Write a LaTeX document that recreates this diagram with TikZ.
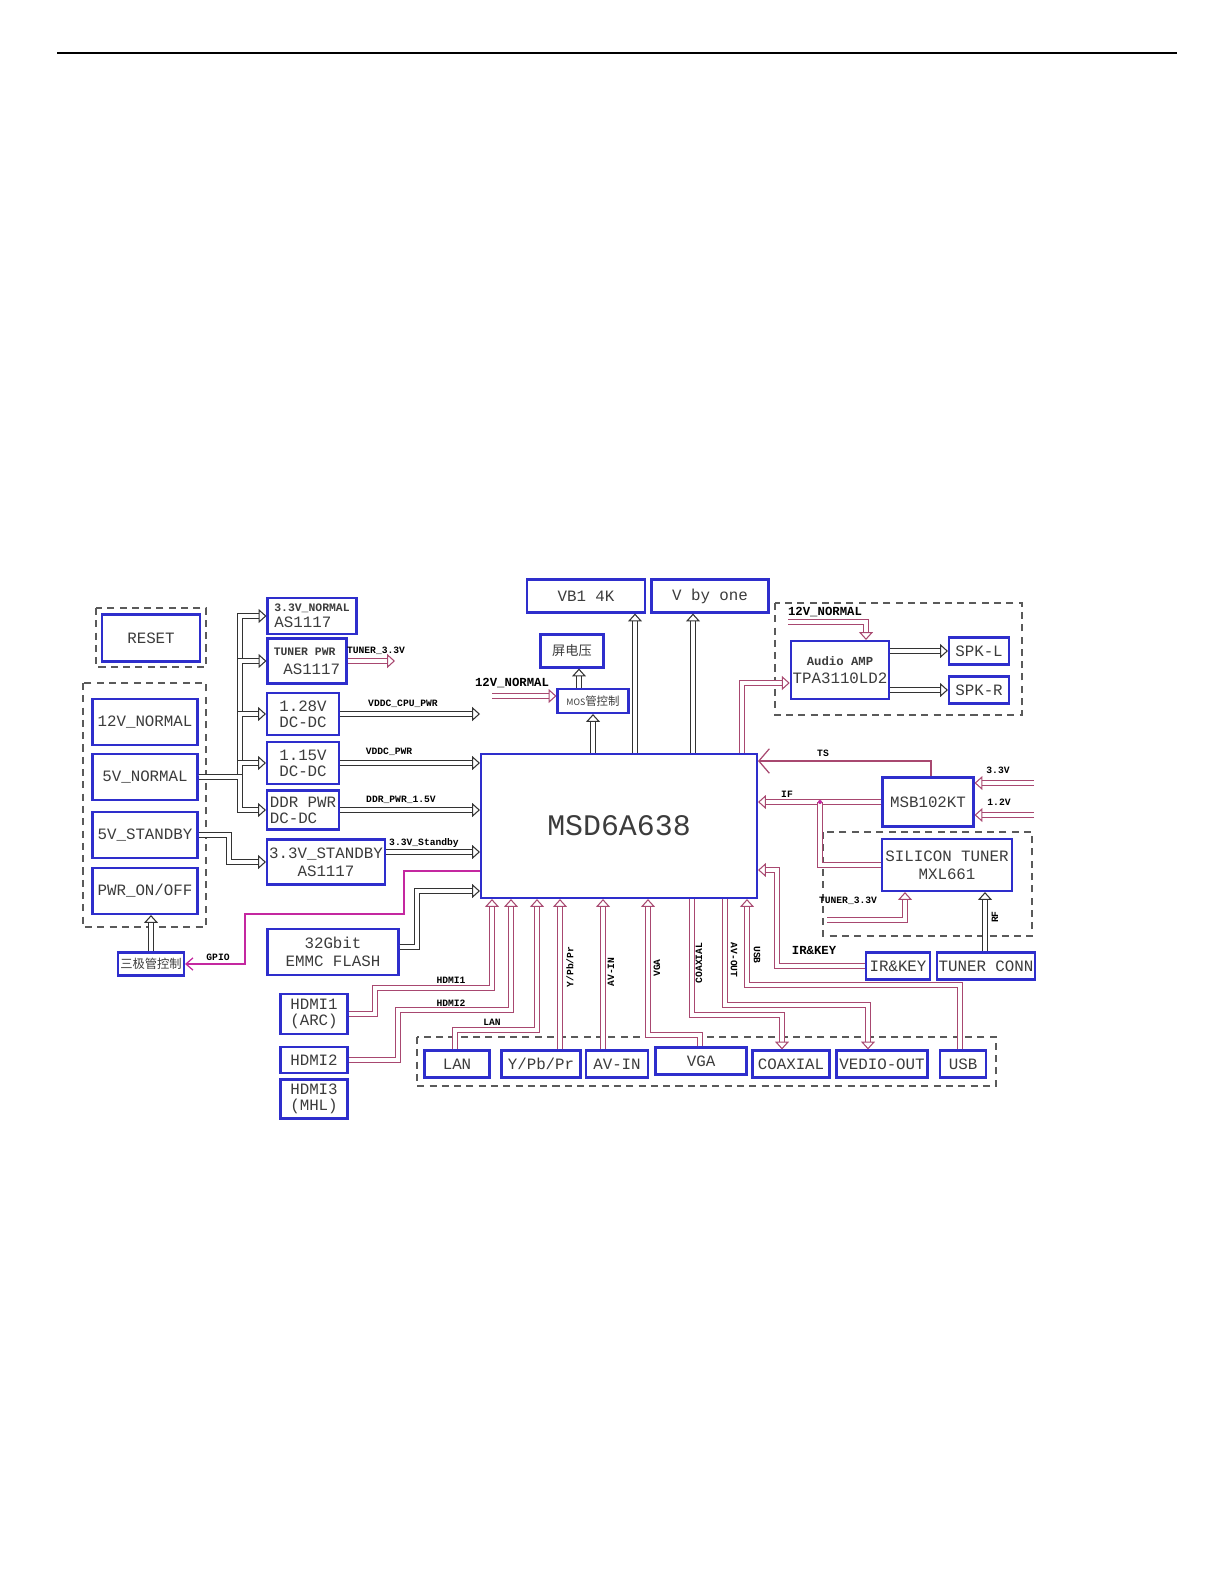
\documentclass[tikz,border=0pt]{standalone}
\usepackage{fontspec}
\setmainfont{Liberation Mono}
\newfontfamily\cjk{Noto Sans CJK SC}
\usetikzlibrary{arrows.meta}
\definecolor{boxBlue}{RGB}{46,46,204}
\definecolor{wireRed}{RGB}{168,72,112}
\definecolor{grpGray}{RGB}{90,90,90}
\definecolor{gpioPink}{RGB}{196,40,160}
\definecolor{txtGray}{RGB}{60,60,60}

\begin{document}
\begin{tikzpicture}[
    x=0.02cm, y=-0.02cm,
    >={Triangle[open, length=4.5pt, width=8pt, line width=0.6pt]},
    blk/.style={draw=boxBlue, line width=1.2pt, fill=white, text=txtGray, align=center, inner sep=1pt, font=\fontsize{9}{10}\selectfont},
    grp/.style={draw=grpGray, line width=0.7pt, dash pattern=on 4pt off 3pt},
    pbus/.style={draw=black!80, line width=0.6pt, double=white, double distance=2.2pt},
    sbus/.style={pbus, draw=wireRed},
    wire/.style={draw=wireRed, line width=0.7pt},
    lbl/.style={inner sep=0pt, font=\fontsize{5.5}{6}\selectfont\bfseries},
    hdr/.style={inner sep=0pt, font=\fontsize{7}{8}\selectfont\bfseries}
  ]
    \useasboundingbox (0,0) rectangle (1224,1584);
    \draw[line width=1.6pt] (57,53) -- (1177,53);

    % dashed groups
    \draw[grp] (96,608) rectangle (206,667);
    \draw[grp] (83,683) rectangle (206,927);
    \draw[grp] (775,603) rectangle (1022,715);
    \draw[grp] (823,832) rectangle (1032,936);
    \draw[grp] (417,1037) rectangle (996,1086);

    % left column
    \node[blk, minimum width=1.96cm, minimum height=0.94cm] (reset) at (151,638) {RESET};
    \node[blk, minimum width=2.1cm, minimum height=0.92cm] (n12v) at (145,722) {12V\_NORMAL};
    \node[blk, minimum width=2.1cm, minimum height=0.92cm] (n5v) at (145,777) {5V\_NORMAL};
    \node[blk, minimum width=2.1cm, minimum height=0.92cm] (n5vsb) at (145,835) {5V\_STANDBY};
    \node[blk, minimum width=2.1cm, minimum height=0.92cm] (pwron) at (145,891) {PWR\_ON/OFF};
    \node[blk, font=\cjk\fontsize{7}{8}\selectfont, minimum width=1.32cm, minimum height=0.46cm] (trans) at (151,964) {三极管控制};

    % power
    \node[blk, align=left, minimum width=1.78cm, minimum height=0.72cm] (ldo33) at (312,616) {{\bfseries\fontsize{6.5}{7}\selectfont 3.3V\_NORMAL}\\[-1pt]AS1117};
    \node[blk, align=left, minimum width=1.58cm, minimum height=0.9cm] (tunpwr) at (307,661) {{\bfseries\fontsize{6.5}{7}\selectfont TUNER PWR}\\[1pt]\ AS1117};
    \node[blk, minimum width=1.44cm, minimum height=0.84cm] (dc128) at (303,714) {1.28V\\[-1pt]DC-DC};
    \node[blk, minimum width=1.44cm, minimum height=0.84cm] (dc115) at (303,763) {1.15V\\[-1pt]DC-DC};
    \node[blk, align=left, minimum width=1.44cm, minimum height=0.78cm] (ddrpwr) at (303,810) {DDR PWR\\[-1pt]DC-DC};
    \node[blk, minimum width=2.36cm, minimum height=0.9cm] (ldosb) at (326,862) {3.3V\_STANDBY\\AS1117};
    \node[blk, minimum width=2.62cm, minimum height=0.92cm] (emmc) at (333,952) {32Gbit\\EMMC FLASH};
    \node[blk, minimum width=1.34cm, minimum height=0.8cm] (hdmia) at (314,1014) {HDMI1\\[-1pt](ARC)};
    \node[blk, minimum width=1.34cm, minimum height=0.52cm] (hdmib) at (314,1060) {HDMI2};
    \node[blk, minimum width=1.34cm, minimum height=0.78cm] (hdmic) at (314,1099) {HDMI3\\[-1pt](MHL)};

    % main chip and top
    \node[blk, font=\fontsize{17}{18}\selectfont, minimum width=5.52cm, minimum height=2.88cm] (chip) at (619,826) {MSD6A638};
    \node[blk, minimum width=2.36cm, minimum height=0.66cm] (vbk) at (586,596) {VB1 4K};
    \node[blk, minimum width=2.34cm, minimum height=0.66cm] (vbo) at (710,596) {V by one};
    \node[blk, font=\cjk\fontsize{7.5}{8}\selectfont, minimum width=1.26cm, minimum height=0.66cm] (scrv) at (572,651) {屏电压};
    \node[blk, font=\cjk\fontsize{6.5}{7}\selectfont, minimum width=1.42cm, minimum height=0.48cm] (mos) at (593,701) {{\fontsize{5}{6}\selectfont MOS}管控制};

    % audio
    \node[blk, minimum width=1.84cm, minimum height=1.16cm] (amp) at (840,670) {{\bfseries\fontsize{7}{8}\selectfont Audio AMP}\\TPA3110LD2};
    \node[blk, minimum width=1.2cm, minimum height=0.54cm] (spkl) at (979,651) {SPK-L};
    \node[blk, minimum width=1.2cm, minimum height=0.54cm] (spkr) at (979,690) {SPK-R};

    % tuner side
    \node[blk, minimum width=1.82cm, minimum height=0.98cm] (msb) at (928,802) {MSB102KT};
    \node[blk, minimum width=2.6cm, minimum height=1.04cm] (tuner) at (947,865) {SILICON TUNER\\MXL661};
    \node[blk, minimum width=1.28cm, minimum height=0.54cm] (irkey) at (898,966) {IR\&KEY};
    \node[blk, minimum width=1.96cm, minimum height=0.54cm] (tconn) at (986,966) {TUNER CONN};

    % bottom connectors
    \node[blk, minimum width=1.3cm, minimum height=0.54cm] (lan) at (457,1064) {LAN};
    \node[blk, minimum width=1.58cm, minimum height=0.54cm] (ypbpr) at (541,1064) {Y/Pb/Pr};
    \node[blk, minimum width=1.24cm, minimum height=0.54cm] (avin) at (617,1064) {AV-IN};
    \node[blk, minimum width=1.82cm, minimum height=0.54cm] (vga) at (701,1061) {VGA};
    \node[blk, minimum width=1.54cm, minimum height=0.54cm] (coax) at (791,1064) {COAXIAL};
    \node[blk, minimum width=1.82cm, minimum height=0.54cm] (vout) at (882,1064) {VEDIO-OUT};
    \node[blk, minimum width=0.92cm, minimum height=0.54cm] (usb) at (963,1064) {USB};

    % free ends
    \coordinate (tun33out) at (395,661);
    \coordinate (cpuout) at (480,714);
    \coordinate (v12mos) at (492,696);
    \coordinate (v12amp) at (788,622);
    \coordinate (v33msb) at (1034,783);
    \coordinate (v12msb) at (1034,815);
    \coordinate (tun33in) at (827,920);

    % power tree
    \foreach \dst in {ldo33,tunpwr,dc128,dc115,ddrpwr}
      \draw[pbus,->] (n5v.east) -- (240,777) |- (\dst.west);
    \draw[pbus,->] (n5vsb.east) -- (229,835) |- (ldosb.west);
    \draw[pbus,->] (trans.north) -- (pwron.south -| trans.north);
    \draw[sbus,->] (tunpwr.east) -- (tun33out);
    \draw[pbus,->] (dc128.east) -- (cpuout);
    \draw[pbus,->] (dc115.east) -- (chip.west |- dc115.east);
    \draw[pbus,->] (ddrpwr.east) -- (chip.west |- ddrpwr.east);
    \draw[pbus,->] (ldosb.east |- 0,852) -- (chip.west |- 0,852);
    \draw[pbus,->] (emmc.east |- 0,947) -- (417,947) |- (chip.west |- 0,891);
    \draw[draw=gpioPink, line width=0.7pt, -{Straight Barb[length=4pt, width=7pt]}] (chip.west |- 0,871) -- (404,871) -- (404,914) -- (245,914) |- (trans.east);

    % top side
    \draw[sbus,->] (v12mos) -- (mos.west |- v12mos);
    \draw[pbus,->] (chip.north -| mos.south) -- (mos.south);
    \draw[pbus,->] (mos.north -| 579,0) -- (scrv.south -| 579,0);
    \draw[pbus,->] (chip.north -| 635,0) -- (vbk.south -| 635,0);
    \draw[pbus,->] (chip.north -| 693,0) -- (vbo.south -| 693,0);
    \draw[sbus,->] (chip.north -| 742,0) |- (amp.west |- 0,683);
    \draw[sbus,->] (v12amp) -| (amp.north -| 866,0);
    \draw[pbus,->] (amp.east |- spkl.west) -- (spkl.west);
    \draw[pbus,->] (amp.east |- spkr.west) -- (spkr.west);

    % right side
    \draw[wire, -{Straight Barb[length=6pt, width=14pt]}] (msb.north -| 931,0) |- (chip.east |- 0,761);
    \draw[sbus,->] (msb.west) -- (chip.east |- msb.west);
    \draw[sbus] (tuner.west) -| (820,802);
    \fill[gpioPink] (820,802) circle (2);
    \draw[sbus,->] (v33msb) -- (msb.east |- v33msb);
    \draw[sbus,->] (v12msb) -- (msb.east |- v12msb);
    \draw[sbus,->] (tun33in) -| (tuner.south -| 905,0);
    \draw[pbus,->] (tconn.north -| 985,0) -- (tuner.south -| 985,0);
    \draw[sbus,->] (irkey.west) -| (777,870) -- (chip.east |- 0,870);

    % bottom side
    \draw[sbus,->] (hdmia.east) -| (375,988) -| (chip.south -| 492,0);
    \draw[sbus,->] (hdmib.east) -| (398,1010) -| (chip.south -| 511,0);
    \draw[sbus,->] (lan.north -| 455,0) |- (537,1030) -- (chip.south -| 537,0);
    \draw[sbus,->] (ypbpr.north -| 560,0) -- (chip.south -| 560,0);
    \draw[sbus,->] (avin.north -| 603,0) -- (chip.south -| 603,0);
    \draw[sbus,->] (vga.north -| 700,0) |- (648,1035) -- (chip.south -| 648,0);
    \draw[sbus,->] (chip.south -| 692,0) |- (782,1015) -- (coax.north -| 782,0);
    \draw[sbus,->] (chip.south -| 725,0) |- (868,1005) -- (vout.north -| 868,0);
    \draw[sbus,->] (usb.north -| 960,0) |- (747,985) -- (chip.south -| 747,0);

    % labels
    \node[lbl] (ltun33) at (376,651) {TUNER\_3.3V};
    \node[lbl] (lcpu) at (403,704) {VDDC\_CPU\_PWR};
    \node[lbl] (lvddc) at (389,752) {VDDC\_PWR};
    \node[lbl] (lddr) at (401,800) {DDR\_PWR\_1.5V};
    \node[lbl] (lsb) at (424,843) {3.3V\_Standby};
    \node[lbl] (lgpio) at (218,957) {GPIO};
    \node[hdr] (l12mos) at (512,683) {12V\_NORMAL};
    \node[hdr] (l12amp) at (825,612) {12V\_NORMAL};
    \node[lbl] (lts) at (823,753) {TS};
    \node[lbl] (lif) at (787,794) {IF};
    \node[lbl] (l33) at (998,770) {3.3V};
    \node[lbl] (l12) at (999,802) {1.2V};
    \node[lbl] (ltun33b) at (848,901) {TUNER\_3.3V};
    \node[lbl, rotate=90] (lrf) at (995,917) {RF};
    \node[hdr] (lir) at (814,950) {IR\&KEY};
    \node[lbl] (lhdmia) at (451,980) {HDMI1};
    \node[lbl] (lhdmib) at (451,1003) {HDMI2};
    \node[lbl] (llan) at (492,1022) {LAN};
    \node[lbl, rotate=90] (lypbpr) at (570,967) {Y/Pb/Pr};
    \node[lbl, rotate=90] (lavin) at (611,972) {AV-IN};
    \node[lbl, rotate=90] (lvga) at (657,968) {VGA};
    \node[lbl, rotate=90] (lcoax) at (699,963) {COAXIAL};
    \node[lbl, rotate=-90] (lavout) at (734,960) {AV-OUT};
    \node[lbl, rotate=-90] (lusb) at (757,955) {USB};
  \end{tikzpicture}
\end{document}
